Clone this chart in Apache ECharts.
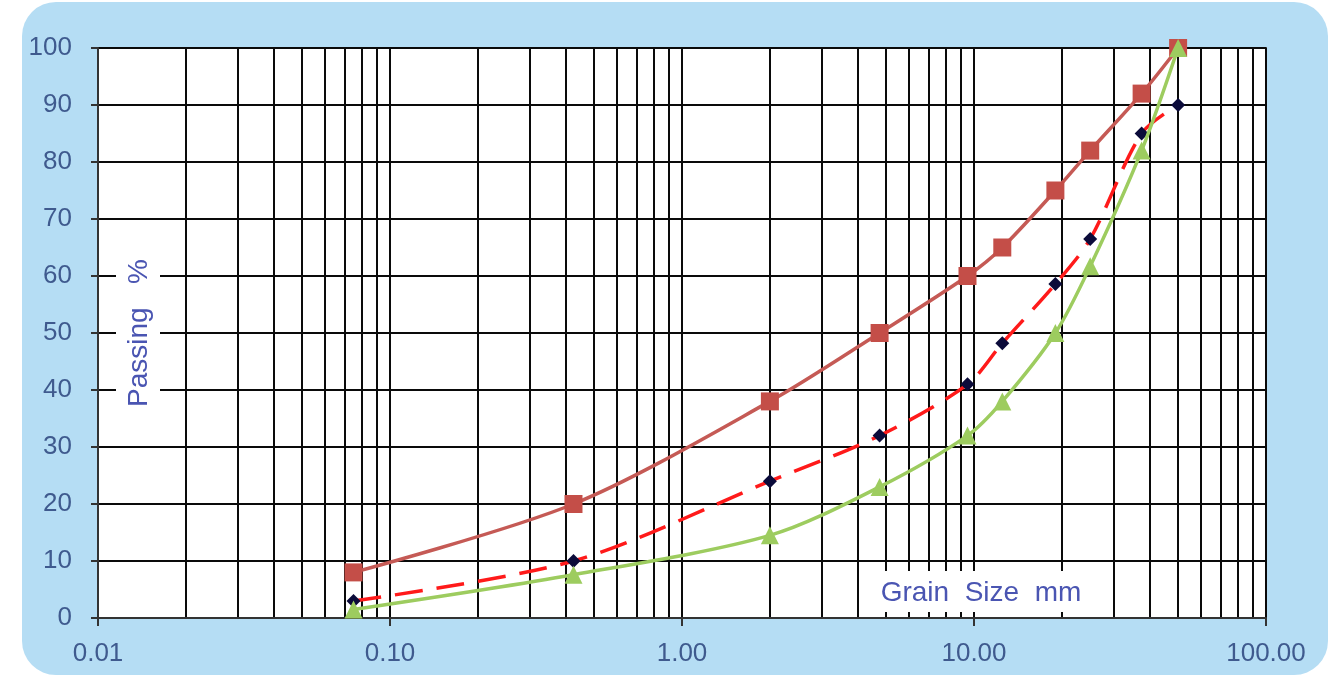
<!DOCTYPE html>
<html>
<head>
<meta charset="utf-8">
<script src="https://cdn.jsdelivr.net/npm/echarts@6/dist/echarts.min.js"></script>
<style>
html,body{margin:0;padding:0;background:#fff;}
#c{width:1331px;height:676px;}
</style>
</head>
<body>
<div id="c"></div>
<script>
// Sieve sizes (mm) and % passing
const sieveSizes = [0.075, 0.425, 2, 4.75, 9.5, 12.5, 19, 25, 37.5, 50];
const upperLimit = [8, 20, 38, 50, 60, 65, 75, 82, 92, 100];
const sample     = [3, 10, 24, 32, 41, 48.2, 58.6, 66.5, 85, 90];
const lowerLimit = [1.5, 7.6, 14.5, 23, 32, 38, 50, 61.7, 82, 100];
const xTickLabels = ['0.01', '0.10', '1.00', '10.00', '100.00'];
const yTicks = [0, 10, 20, 30, 40, 50, 60, 70, 80, 90, 100];

const pairs = vals => sieveSizes.map((s, i) => [s, vals[i]]);
const labelColor = '#3f5a8e';
const nameColor = '#4a55b2';
const gridColor = '#0a0a0a';

const chart = echarts.init(document.getElementById('c'), null, {renderer: 'canvas'});
chart.setOption({
  animation: false,
  backgroundColor: '#ffffff',
  grid: {
    left: 98, right: 65, top: 48, bottom: 58,
    show: true, backgroundColor: '#ffffff', borderColor: '#4a4a4a', borderWidth: 2
  },
  xAxis: {
    type: 'log', logBase: 10, min: 0.01, max: 100,
    axisLine: {show: true, lineStyle: {color: '#333', width: 2}},
    axisTick: {show: true, inside: false, length: 8, lineStyle: {color: '#333', width: 2}},
    minorTick: {show: false, splitNumber: 9},
    splitLine: {show: true, lineStyle: {color: gridColor, width: 2}},
    minorSplitLine: {show: true, lineStyle: {color: gridColor, width: 2}},
    axisLabel: {
      color: labelColor, fontSize: 26, fontFamily: 'Liberation Sans, Arial', margin: 23,
      formatter: v => {
        const idx = Math.round(Math.log10(v)) + 2;
        return xTickLabels[idx] !== undefined ? xTickLabels[idx] : '';
      }
    }
  },
  yAxis: {
    type: 'value', min: 0, max: 100, interval: 10,
    axisLine: {show: true, lineStyle: {color: '#333', width: 2}},
    axisTick: {show: true, inside: false, length: 7, lineStyle: {color: '#333', width: 2}},
    splitLine: {show: true, lineStyle: {color: gridColor, width: 2}},
    axisLabel: {
      color: labelColor, fontSize: 26, fontFamily: 'Liberation Sans, Arial', margin: 26,
      formatter: v => yTicks.indexOf(v) >= 0 ? String(v) : ''
    }
  },
  graphic: [
    {type: 'rect', z: -10, silent: true,
     shape: {x: 22, y: 2, width: 1306, height: 673, r: 34},
     style: {fill: '#b5ddf4'}},
    {type: 'rect', z: 50, silent: true,
     shape: {x: 868, y: 571, width: 224, height: 41},
     style: {fill: '#ffffff'}},
    {type: 'text', z: 51, silent: true, x: 981, y: 593,
     style: {text: 'Grain  Size  mm', fill: nameColor, font: '28px "Liberation Sans", Arial',
             align: 'center', verticalAlign: 'middle'}},
    {type: 'rect', z: 50, silent: true,
     shape: {x: 116, y: 240, width: 44, height: 185},
     style: {fill: '#ffffff'}},
    {type: 'text', z: 51, silent: true, x: 139, y: 333, rotation: Math.PI / 2,
     style: {text: 'Passing   %', fill: nameColor, font: '28px "Liberation Sans", Arial',
             align: 'center', verticalAlign: 'middle'}}
  ],
  series: [
    {
      name: 'Upper', type: 'line', data: pairs(upperLimit), smooth: 0.3,
      symbol: 'rect', symbolSize: 18, z: 3,
      lineStyle: {color: '#c55a55', width: 3.5},
      itemStyle: {color: '#c44e48'}
    },
    {
      name: 'Sample', type: 'line', data: pairs(sample), smooth: 0.3,
      symbol: 'diamond', symbolSize: 14, z: 4,
      lineStyle: {color: '#ff1a1a', width: 3.5, type: [28, 14]},
      itemStyle: {color: '#0b0b3a'}
    },
    {
      name: 'Lower', type: 'line', data: pairs(lowerLimit), smooth: 0.3,
      symbol: 'triangle', symbolSize: 18, z: 5,
      lineStyle: {color: '#9dcc5f', width: 3.5},
      itemStyle: {color: '#9dcc5f'}
    }
  ]
});
</script>
</body>
</html>
